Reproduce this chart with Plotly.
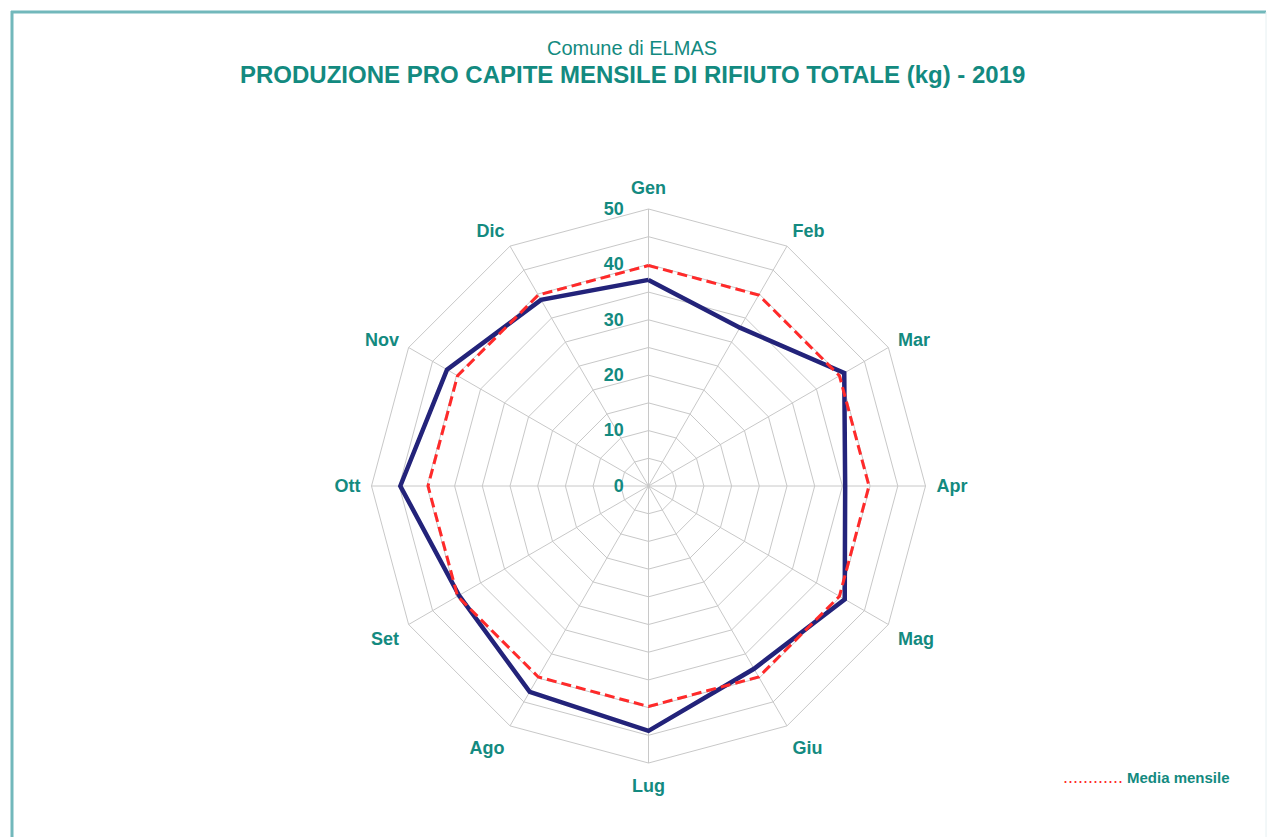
import plotly.graph_objects as go

months = ["Gen", "Feb", "Mar", "Apr", "Mag", "Giu", "Lug", "Ago", "Set", "Ott", "Nov", "Dic"]
produzione = [37.2, 33.0, 40.8, 35.5, 40.9, 38.1, 44.2, 42.9, 39.5, 44.8, 42.0, 38.8]
media = [39.8] * 12
radial_ticks = [0, 5, 10, 15, 20, 25, 30, 35, 40, 45, 50]
radial_text = ["0", "", "10", "", "20", "", "30", "", "40", "", "50"]

TEAL = "#138a80"
W, H = 1273, 837
FONT = "Liberation Sans, Arial, sans-serif"

fig = go.Figure()
fig.add_trace(go.Scatterpolar(
    r=produzione + produzione[:1], theta=months + months[:1], mode="lines",
    line=dict(color="#23237a", width=4.5), showlegend=False, name="Produzione"))
fig.add_trace(go.Scatterpolar(
    r=media + media[:1], theta=months + months[:1], mode="lines",
    line=dict(color="#ff2a2a", width=3, dash="10px,5px"), showlegend=False, name="Media mensile"))

cx, cy, R = 648.5, 486, 277
fig.update_layout(
    width=W, height=H,
    margin=dict(l=0, r=0, t=0, b=0),
    paper_bgcolor="white",
    font=dict(family=FONT, color=TEAL),
    polar=dict(
        domain=dict(x=[(cx - R) / W, (cx + R) / W], y=[1 - (cy + R) / H, 1 - (cy - R) / H]),
        bgcolor="white",
        gridshape="linear",
        angularaxis=dict(direction="clockwise", rotation=90, showline=True,
                         linecolor="#c8c8c8", linewidth=1,
                         gridcolor="#c8c8c8", gridwidth=1,
                         ticks="outside", ticklen=7, tickcolor="rgba(0,0,0,0)",
                         tickfont=dict(size=18, color=TEAL, family=FONT, weight="bold")),
        radialaxis=dict(range=[0, 50], angle=90, tickangle=90, tickvals=radial_ticks, ticktext=radial_text,
                        showline=False, gridcolor="#c8c8c8", gridwidth=1,
                        ticks="outside", ticklen=18, tickcolor="rgba(0,0,0,0)",
                        side="counterclockwise",
                        tickfont=dict(size=18, color=TEAL, family=FONT, weight="bold")),
    ),
    annotations=[
        dict(text="Comune di ELMAS", x=632 / W, y=1 - 48 / H, xref="paper", yref="paper",
             showarrow=False, font=dict(size=20, color=TEAL), xanchor="center", yanchor="middle"),
        dict(text="<b>PRODUZIONE PRO CAPITE MENSILE DI RIFIUTO TOTALE (kg) - 2019</b>",
             x=632 / W, y=1 - 75 / H, xref="paper", yref="paper",
             showarrow=False, font=dict(size=24, color=TEAL), xanchor="center", yanchor="middle"),
        dict(text="............", x=1125 / W, y=1 - 777 / H, xref="paper", yref="paper",
             showarrow=False, font=dict(size=18, color="#ff2a2a"), xanchor="right", yanchor="middle"),
        dict(text="<b>Media mensile</b>", x=1125 / W, y=1 - 777 / H, xref="paper", yref="paper",
             showarrow=False, font=dict(size=15, color=TEAL), xanchor="left", yanchor="middle"),
    ],
    shapes=[
        dict(type="line", xref="paper", yref="paper", x0=11 / W, x1=1266 / W, y0=1 - 12 / H, y1=1 - 12 / H,
             line=dict(color="#72b8bb", width=3)),
        dict(type="line", xref="paper", yref="paper", x0=12 / W, x1=12 / W, y0=1 - 11 / H, y1=0,
             line=dict(color="#72b8bb", width=3)),
        dict(type="line", xref="paper", yref="paper", x0=1266 / W, x1=1266 / W, y0=1 - 12 / H, y1=0,
             line=dict(color="#e6f0f2", width=1)),
    ],
)

fig.write_html("out.html")
